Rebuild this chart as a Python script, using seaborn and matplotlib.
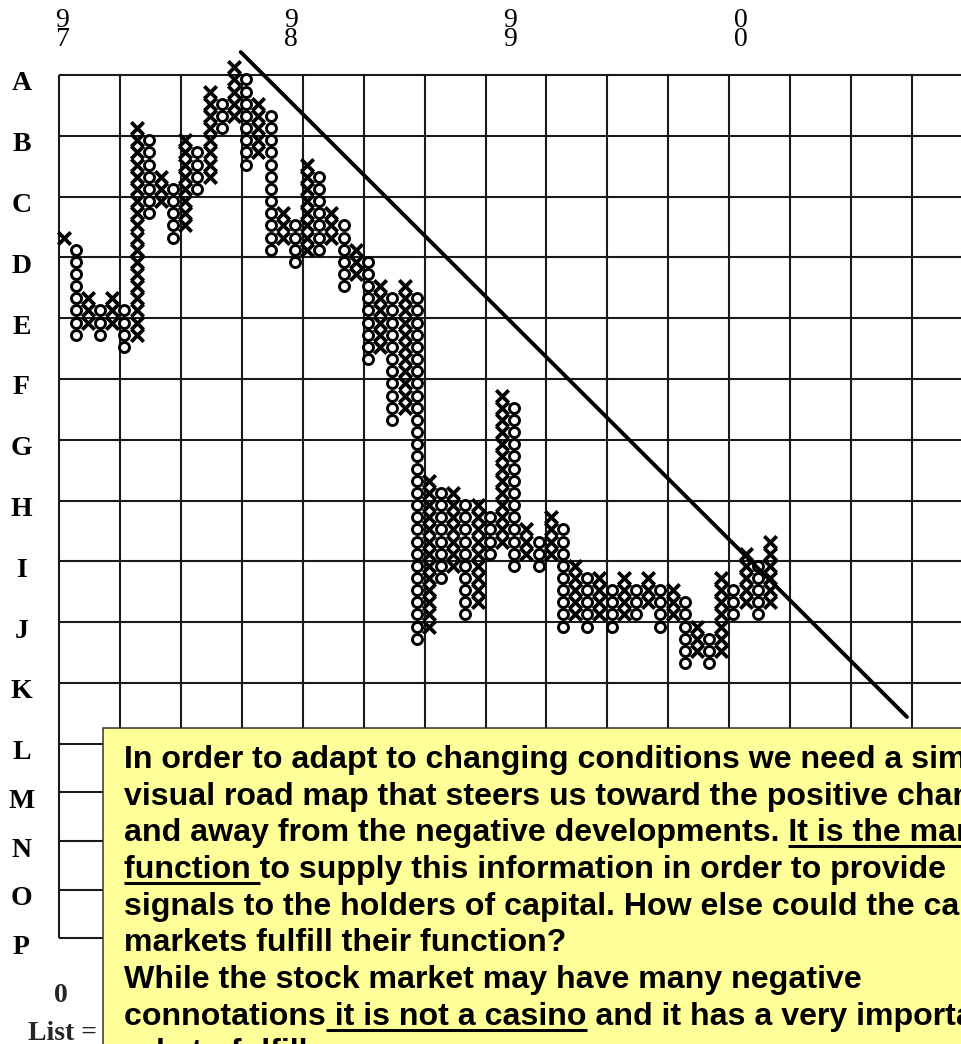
import matplotlib
matplotlib.use("Agg")
import matplotlib.pyplot as plt
from matplotlib.font_manager import FontProperties
from matplotlib.patches import Rectangle
from matplotlib.lines import Line2D
import numpy as np
import pandas as pd
import seaborn as sns

# ---------------------------------------------------------------------------
# Point & figure columns: type of each column and its lowest / highest box
# (levels counted in boxes, 0 = first X of the chart)
# ---------------------------------------------------------------------------
column_types = list("XOXOXOXOXOXOXOXOXOXOXOXOXOXOXOXOXOXOXOXOXOXOXOXOXOXOXOXOXOX")
column_lows = [0, -8, -7, -8, -7, -9, -8, 2, 3, 0,
               1, 4, 5, 9, 10, 6, 7, -1, 0, -2,
               -1, -1, 0, -4, -3, -10, -9, -15, -14, -33,
               -32, -28, -27, -31, -30, -26, -25, -27, -26, -27,
               -26, -32, -31, -32, -31, -32, -31, -31, -30, -32,
               -31, -35, -34, -35, -34, -31, -30, -31, -30]
column_highs = [0, -1, -5, -6, -5, -6, 9, 8, 5, 4,
                8, 7, 12, 11, 14, 13, 11, 10, 2, 1,
                6, 5, 2, 1, -1, -2, -4, -5, -4, -5,
                -20, -21, -21, -22, -22, -23, -13, -14, -24, -25,
                -23, -24, -27, -28, -28, -29, -28, -29, -28, -29,
                -29, -30, -32, -33, -28, -29, -26, -27, -25]

# Down-sloping trend line (column, box level)
trend_cols = [14.55, 69.25]
trend_levels = [15.25, -39.43]

# Year markers along the top (column where each year starts)
year_labels = ["97", "98", "99", "00"]
year_cols = [-0.1, 18.7, 36.7, 55.6]

# Row labels of the grid
row_labels = list("ABCDEFGHIJKLMNOP")

# Note box
note_lines = [
    "In order to adapt to changing conditions we need a simple",
    "visual road map that steers us toward the positive changes",
    "and away from the negative developments. It is the market's",
    "function to supply this information in order to provide",
    "signals to the holders of capital. How else could the capital",
    "markets fulfill their function?",
    "While the stock market may have many negative",
    "connotations it is not a casino and it has a very important",
    "role to fulfill.",
]
# underlined spans: (line index, first char, last char or None for end of line)
note_underlines = [(2, 41, None), (3, 0, 9), (7, 12, 31)]

# ---------------------------------------------------------------------------
W, H, DPI = 961, 1044, 100
BOX_W, BOX_H = 12.18, 12.16          # pixel size of one box
X0_PX, Y0_PX = 63.5, 237.5           # pixel centre of column 0 / level 0

sns.set_theme(style="white")
plt.rcParams["font.family"] = ["Liberation Sans", "DejaVu Sans"]

fig = plt.figure(figsize=(W / DPI, H / DPI), dpi=DPI, facecolor="white")
ax = fig.add_axes([0, 0, 1, 1])
ax.set_xlim(-X0_PX / BOX_W, (W - X0_PX) / BOX_W)
ax.set_ylim((Y0_PX - H) / BOX_H, Y0_PX / BOX_H)
ax.axis("off")

# boxes table
records = []
for ci, (kind, lo, hi) in enumerate(zip(column_types, column_lows, column_highs)):
    for lv in range(lo, hi + 1):
        records.append({"col": ci, "level": lv, "kind": kind})
boxes = pd.DataFrame(records)

# grid: 5 boxes per cell, lower rows 4 boxes high
grid_top = 13.36
grid_left = -0.35
row_steps = [5] * 11 + [4] * 4
line_levels = [grid_top]
for st in row_steps:
    line_levels.append(line_levels[-1] - st)
grid_bottom = line_levels[-1]
ax.hlines(line_levels, grid_left, 90, color="#1a1a1a", lw=1.5, zorder=1)
vcols = grid_left + 5 * np.arange(0, 16)
ax.vlines(vcols, grid_bottom, grid_top, color="#1a1a1a", lw=1.5, zorder=1)

# X and O boxes
sns.scatterplot(data=boxes[boxes["kind"] == "X"], x="col", y="level",
                marker="x", s=80, color="black", linewidth=2.7,
                legend=False, ax=ax, zorder=3)
sns.scatterplot(data=boxes[boxes["kind"] == "O"], x="col", y="level",
                marker="o", s=52, color="black", linewidth=2.1,
                legend=False, ax=ax, zorder=4)
ax.collections[-1].set_facecolor("white")
ax.collections[-1].set_edgecolor("black")

# trend line
sns.lineplot(x=trend_cols, y=trend_levels, color="black", lw=2.8,
             ax=ax, zorder=5, sort=False)

# labels
serif_bold = FontProperties(family="Liberation Serif", weight="bold", size=20)
serif_reg = FontProperties(family="Liberation Serif", size=20)
for lab, lv in zip(row_labels, line_levels):
    ax.text(-3.45, lv - 1.27, lab, fontproperties=serif_bold,
            ha="center", va="baseline", color="black")

for lab, c in zip(year_labels, year_cols):
    ax.text(c, 17.05, "\n".join(lab), fontproperties=serif_reg, ha="center",
            va="center", ma="center", linespacing=0.68, color="black")

fig.text(61 / W, 1 - 1002 / H, "0", fontproperties=serif_bold,
         ha="center", va="baseline")
fig.text(28 / W, 1 - 1040 / H, "List =", fontproperties=serif_bold,
         ha="left", va="baseline")

# note box
box_left, box_top = 103, 728
fig.patches.append(Rectangle((box_left / W, -0.1), 1.2, 1 - box_top / H + 0.1,
                             transform=fig.transFigure, facecolor="#FFFF99",
                             edgecolor="#333333", lw=1.1, zorder=10))

note_fp = FontProperties(family="Liberation Sans", weight="bold", size=23.1)
text_x, base0, lead = 124, 768, 36.65
for i, line in enumerate(note_lines):
    fig.text(text_x / W, 1 - (base0 + i * lead) / H, line,
             fontproperties=note_fp, ha="left", va="baseline",
             color="black", zorder=11)

renderer = fig.canvas.get_renderer()


def str_width(s):
    w_bar, _, _ = renderer.get_text_width_height_descent("|", note_fp, ismath=False)
    w, _, _ = renderer.get_text_width_height_descent(s + "|", note_fp, ismath=False)
    return w - w_bar


for li, a, b in note_underlines:
    line = note_lines[li]
    x_start = text_x + str_width(line[:a]) if a > 0 else text_x
    x_end = text_x + str_width(line if b is None else line[:b])
    y = base0 + li * lead + 5
    fig.lines.append(Line2D([x_start / W, x_end / W], [1 - y / H, 1 - y / H],
                            transform=fig.transFigure, color="black",
                            lw=2.2, zorder=12, solid_capstyle="butt"))

fig.savefig("out.png", dpi=DPI, facecolor="white")
